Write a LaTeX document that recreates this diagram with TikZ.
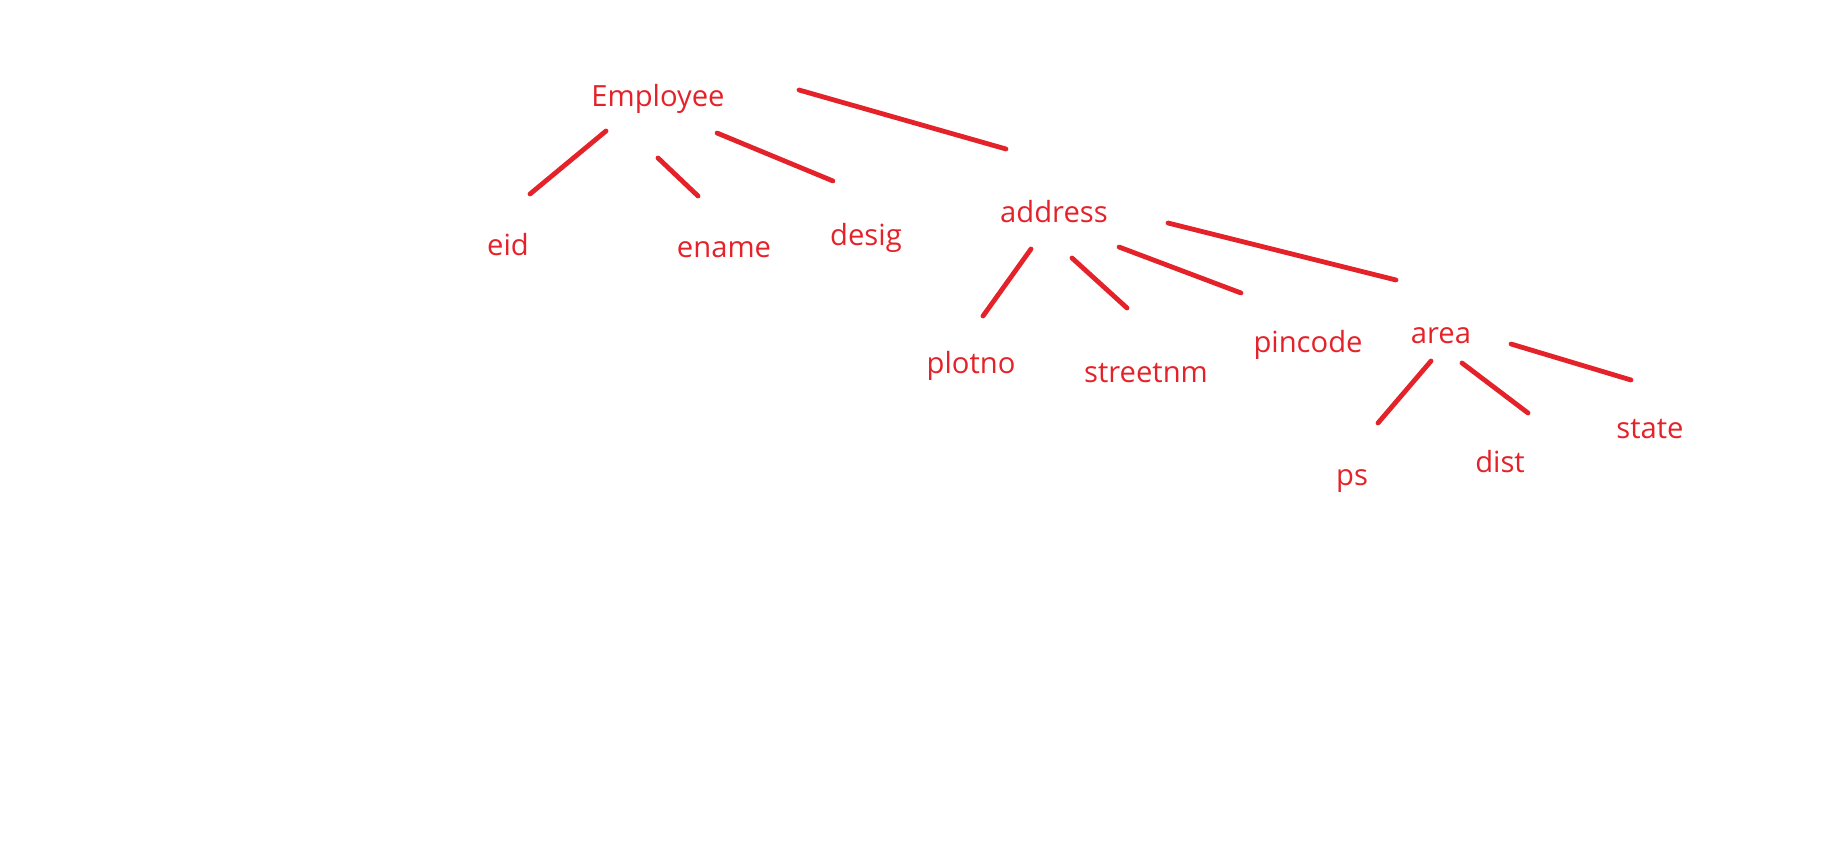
\documentclass[tikz,border=0pt]{standalone}
\usepackage{fontspec}
\setmainfont{Open Sans}
\usepackage{tikz}
\usetikzlibrary{positioning}
\definecolor{penred}{RGB}{228, 34, 42}
\tikzstyle{lbl} = [text=penred, inner sep=0pt, anchor=base, font=\fontsize{14.6}{17}\selectfont]
\tikzstyle{tline} = [draw=penred, line width=2.4pt, line cap=round]

\begin{document}
\begin{tikzpicture}[x=0.5pt, y=-0.5pt]
\useasboundingbox (0,0) rectangle (1831,846);

% labels =============================

% root
\node[lbl] (emp) at (658,106) {Employee};

% level 1
\node[lbl] (eid) at (508,255) {eid};
\node[lbl] (ename) at (724,257) {ename};
\node[lbl] (desig) at (866,245) {desig};
\node[lbl] (addr) at (1054,222) {address};

% level 2
\node[lbl] (plotno) at (971,373) {plotno};
\node[lbl] (street) at (1146,382) {streetnm};
\node[lbl] (pin) at (1308,352) {pincode};
\node[lbl] (area) at (1441,343) {area};

% level 3
\node[lbl] (ps) at (1352,485) {ps};
\node[lbl] (dist) at (1500,472) {dist};
\node[lbl] (state) at (1650,438) {state};

% stroke ends
\coordinate (emp1) at (606,131); \coordinate (eid1) at (530,194);
\coordinate (emp2) at (658,158); \coordinate (ename1) at (698,196);
\coordinate (emp3) at (717,133); \coordinate (desig1) at (833,181);
\coordinate (emp4) at (799,90);  \coordinate (addr1) at (1006,149);

\coordinate (addr2) at (1031,249); \coordinate (plotno1) at (983,316);
\coordinate (addr3) at (1072,258); \coordinate (street1) at (1127,308);
\coordinate (addr4) at (1119,247); \coordinate (pin1) at (1241,293);
\coordinate (addr5) at (1168,223); \coordinate (area1) at (1396,280);

\coordinate (area2) at (1431,361); \coordinate (ps1) at (1378,423);
\coordinate (area3) at (1462,363); \coordinate (dist1) at (1528,413);
\coordinate (area4) at (1511,344); \coordinate (state1) at (1631,380);

%edges
\path[tline] (emp1) -- (eid1);
\path[tline] (emp2) -- (ename1);
\path[tline] (emp3) -- (desig1);
\path[tline] (emp4) -- (addr1);

\path[tline] (addr2) -- (plotno1);
\path[tline] (addr3) -- (street1);
\path[tline] (addr4) -- (pin1);
\path[tline] (addr5) -- (area1);

\path[tline] (area2) -- (ps1);
\path[tline] (area3) -- (dist1);
\path[tline] (area4) -- (state1);

\end{tikzpicture}
\end{document}
